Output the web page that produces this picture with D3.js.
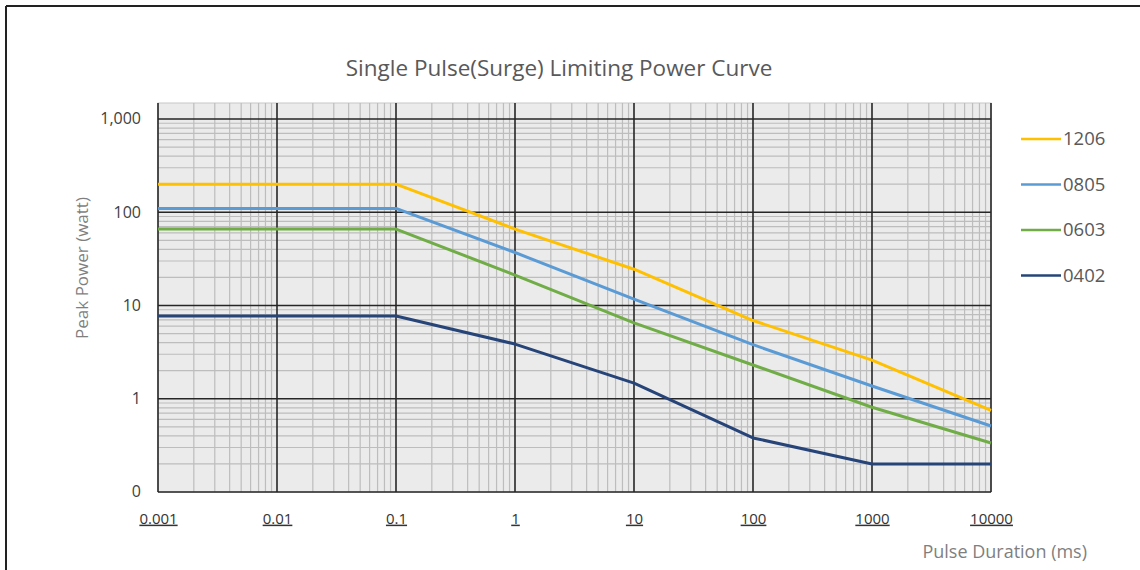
<!DOCTYPE html>
<html>
<head>
<meta charset="utf-8">
<script src="https://cdn.jsdelivr.net/npm/d3@7"></script>
<style>
  body { margin: 0; background: #fff; }
  svg { display: block; font-family: "Open Sans", "Noto Sans", sans-serif; }
</style>
</head>
<body>
<svg id="chart"></svg>
<script>
// pulse durations (ms) shared by all series
const durations = [0.001, 0.1, 1, 10, 100, 1000, 10000];

const series = [
    { name: "1206", color: "#FFC000", values: [200, 200, 66, 24.5, 6.9, 2.6, 0.75] },
    { name: "0805", color: "#5B9BD5", values: [110, 110, 37, 11.7, 3.8, 1.37, 0.51] },
    { name: "0603", color: "#70AD47", values: [66, 66, 21.2, 6.5, 2.3, 0.81, 0.335] },
    { name: "0402", color: "#264478", values: [7.7, 7.7, 3.86, 1.47, 0.38, 0.2, 0.2] }
];

const xTicks = [0.001, 0.01, 0.1, 1, 10, 100, 1000, 10000];
const xTickLabels = ["0.001", "0.01", "0.1", "1", "10", "100", "1000", "10000"];
const yTicks = [0.1, 1, 10, 100, 1000];
const yTickLabels = ["0", "1", "10", "100", "1,000"];

const width = 1140, height = 570;
const plot = { left: 158, right: 991, top: 103, bottom: 492 };

const svg = d3.select("#chart")
    .attr("width", width)
    .attr("height", height);

// outer chart frame
svg.append("line")
    .attr("x1", 6).attr("x2", 6).attr("y1", 6).attr("y2", height)
    .attr("stroke", "#222").attr("stroke-width", 2);
svg.append("line")
    .attr("x1", 6).attr("x2", width).attr("y1", 6).attr("y2", 6)
    .attr("stroke", "#222").attr("stroke-width", 2);

const x = d3.scaleLog()
    .domain([0.001, 10000])
    .range([plot.left, plot.right]);

const y = d3.scaleLog()
    .domain([0.1, 1000])
    .range([plot.bottom, 119]);

// plot background
svg.append("rect")
    .attr("x", plot.left).attr("y", plot.top)
    .attr("width", plot.right - plot.left)
    .attr("height", plot.bottom - plot.top)
    .attr("fill", "#EBEBEB")
    .attr("stroke", "#c8c8c8");

// minor gridlines
const minorX = [];
for (let d = 0.001; d < 10000; d *= 10) {
    for (let k = 2; k <= 9; k++) minorX.push(+(d * k).toPrecision(3));
}
const minorY = [];
for (let d = 0.1; d < 1000; d *= 10) {
    for (let k = 2; k <= 9; k++) minorY.push(+(d * k).toPrecision(3));
}

const grid = svg.append("g");
grid.selectAll(".mx").data(minorX).enter().append("line")
    .attr("x1", d => x(d)).attr("x2", d => x(d))
    .attr("y1", plot.top).attr("y2", plot.bottom)
    .attr("stroke", "#BDBDBD").attr("stroke-width", 1.2);
grid.selectAll(".my").data(minorY).enter().append("line")
    .attr("x1", plot.left).attr("x2", plot.right)
    .attr("y1", d => y(d)).attr("y2", d => y(d))
    .attr("stroke", "#BDBDBD").attr("stroke-width", 1.2);

// major gridlines
grid.selectAll(".Mx").data(xTicks).enter().append("line")
    .attr("x1", d => x(d)).attr("x2", d => x(d))
    .attr("y1", plot.top).attr("y2", plot.bottom)
    .attr("stroke", "#262626").attr("stroke-width", 1.6);
grid.selectAll(".My").data(yTicks).enter().append("line")
    .attr("x1", plot.left).attr("x2", plot.right)
    .attr("y1", d => y(d)).attr("y2", d => y(d))
    .attr("stroke", "#262626").attr("stroke-width", 1.6);

// y axis labels
const yAxis = svg.append("g")
    .attr("transform", `translate(${plot.left - 6},0)`)
    .call(d3.axisLeft(y).tickValues(yTicks).tickSize(0)
        .tickFormat((d, i) => yTickLabels[i]));
yAxis.select(".domain").remove();
yAxis.selectAll("text")
    .attr("x", -11)
    .attr("dy", "0.3em")
    .attr("fill", "#404040")
    .style("font-size", "16px")
    .style("font-family", "Open Sans, sans-serif");

// x axis labels (underlined)
const xAxis = svg.append("g")
    .attr("transform", `translate(0,${plot.bottom})`)
    .call(d3.axisBottom(x).tickValues(xTicks).tickSize(0)
        .tickFormat((d, i) => xTickLabels[i]));
xAxis.select(".domain").remove();
xAxis.selectAll("text")
    .attr("y", 21)
    .attr("fill", "#333")
    .style("font-size", "15px")
    .style("font-family", "Open Sans, sans-serif")
    .style("text-decoration", "underline");

// series lines
const line = d3.line()
    .x((d, i) => x(durations[i]))
    .y(d => y(d));

svg.append("g").selectAll("path")
    .data(series.slice().reverse())
    .enter().append("path")
    .attr("d", s => line(s.values))
    .attr("fill", "none")
    .attr("stroke", s => s.color)
    .attr("stroke-width", 3)
    .attr("stroke-linejoin", "round");

// title
svg.append("text")
    .attr("x", 559).attr("y", 76)
    .attr("text-anchor", "middle")
    .attr("fill", "#595959")
    .style("font-size", "22.5px")
    .text("Single Pulse(Surge) Limiting Power Curve");

// axis titles
svg.append("text")
    .attr("transform", "translate(88,268) rotate(-90)")
    .attr("text-anchor", "middle")
    .attr("fill", "#7f7f7f")
    .style("font-size", "17px")
    .text("Peak Power (watt)");

svg.append("text")
    .attr("x", 1087).attr("y", 558)
    .attr("text-anchor", "end")
    .attr("fill", "#7f7f7f")
    .style("font-size", "18px")
    .text("Pulse Duration (ms)");

// legend
const legend = svg.append("g").selectAll("g")
    .data(series)
    .enter().append("g")
    .attr("transform", (d, i) => `translate(1021,${139 + i * 45.5})`);
legend.append("line")
    .attr("x1", 0).attr("x2", 40)
    .attr("stroke", d => d.color).attr("stroke-width", 2.5);
legend.append("text")
    .attr("x", 42).attr("dy", "0.35em")
    .attr("fill", "#595959")
    .style("font-size", "18.5px")
    .text(d => d.name);
</script>
</body>
</html>
